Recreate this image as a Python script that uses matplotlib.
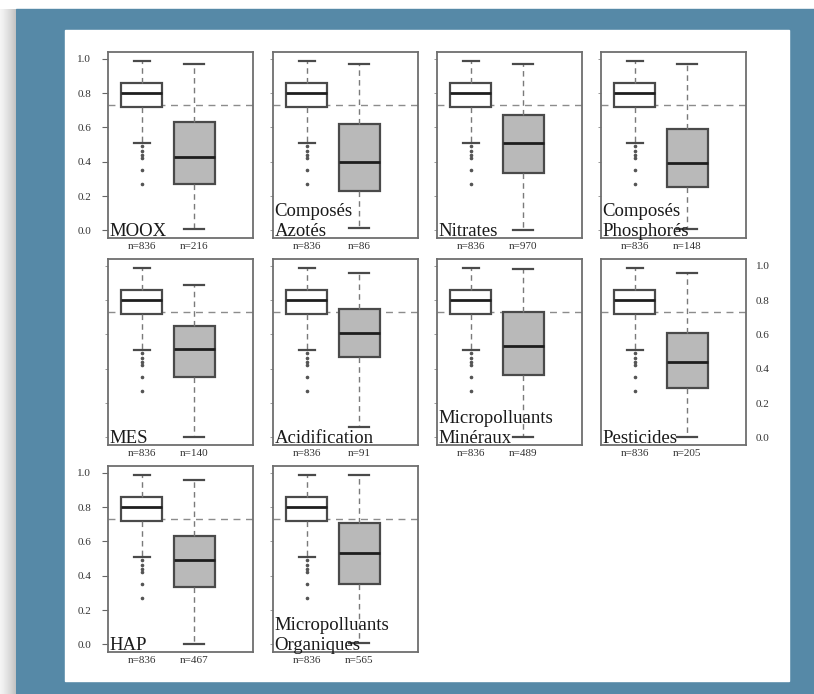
import numpy as np
import matplotlib
matplotlib.use("Agg")
import matplotlib.pyplot as plt
from matplotlib.patches import Rectangle

# panel names
labels = ["MOOX", "Composés\nAzotés", "Nitrates", "Composés\nPhosphorés",
          "MES", "Acidification", "Micropolluants\nMinéraux", "Pesticides",
          "HAP", "Micropolluants\nOrganiques"]

# reference group (same in every panel)
n_ref = 836
ref_whishi = 0.99
ref_q3 = 0.86
ref_med = 0.80
ref_q1 = 0.72
ref_whislo = 0.51
ref_fliers = [0.49, 0.46, 0.44, 0.42, 0.35, 0.27]

# second group per panel
n_grp = [216, 86, 970, 148, 140, 91, 489, 205, 467, 565]
grp_whishi = [0.97, 0.97, 0.97, 0.97, 0.89, 0.96, 0.98, 0.96, 0.96, 0.99]
grp_q3 = [0.63, 0.62, 0.67, 0.59, 0.65, 0.75, 0.73, 0.61, 0.63, 0.71]
grp_med = [0.43, 0.40, 0.51, 0.39, 0.515, 0.61, 0.53, 0.44, 0.49, 0.53]
grp_q1 = [0.27, 0.23, 0.335, 0.25, 0.35, 0.47, 0.365, 0.29, 0.335, 0.35]
grp_whislo = [0.01, 0.015, 0.0, 0.01, 0.0, 0.06, 0.0, 0.0, 0.0, 0.01]

ref_line = 0.73
yticks = [0.0, 0.2, 0.4, 0.6, 0.8, 1.0]

W, H = 814, 694
blue = "#5689a7"
serif = ["Liberation Serif", "DejaVu Serif"]

fig = plt.figure(figsize=(W / 100, H / 100), dpi=100, facecolor="white")

# blue frame + white sheet (behind the axes)
fig.patches.append(Rectangle((16 / W, 0), 1 - 16 / W, (H - 9) / H,
                             transform=fig.transFigure, color=blue, zorder=-3))
fig.patches.append(Rectangle((65 / W, (H - 681) / H), (789 - 65) / W, (681 - 30) / H,
                             transform=fig.transFigure, color="white", zorder=-2))
# left shadow
ax_sh = fig.add_axes([0, 0, 16 / W, (H - 9) / H])
ax_sh.imshow(np.linspace(0.08, 0.35, 32)[None, :], cmap="Greys", vmin=0, vmax=1,
             aspect="auto", interpolation="bilinear")
ax_sh.axis("off")

cols_x = [108, 273, 437, 601]
rows_y = [52, 259, 466]
ax_w, ax_h = 145, 186

for i, name in enumerate(labels):
    r, c = divmod(i, 4)
    ax = fig.add_axes([cols_x[c] / W, 1 - (rows_y[r] + ax_h) / H, ax_w / W, ax_h / H])
    stats = [
        dict(whislo=ref_whislo, q1=ref_q1, med=ref_med, q3=ref_q3,
             whishi=ref_whishi, fliers=ref_fliers),
        dict(whislo=grp_whislo[i], q1=grp_q1[i], med=grp_med[i], q3=grp_q3[i],
             whishi=grp_whishi[i], fliers=[]),
    ]
    ax.axhline(ref_line, color="#8c8c8c", ls=(0, (5, 4)), lw=1.0, zorder=1.5)
    bp = ax.bxp(stats, positions=[1, 2], widths=0.78, capwidths=[0.3, 0.38],
                patch_artist=True, manage_ticks=False,
                boxprops=dict(edgecolor="#4a4a4a", linewidth=1.6),
                whiskerprops=dict(color="#7a7a7a", linestyle=(0, (4, 3)), linewidth=1.0),
                capprops=dict(color="#4a4a4a", linewidth=1.6),
                medianprops=dict(color="#1e1e1e", linewidth=2.0),
                flierprops=dict(marker="o", markersize=1.6, markerfacecolor="#555555",
                                markeredgecolor="#555555", linestyle="none"))
    bp["boxes"][0].set_facecolor("white")
    bp["boxes"][1].set_facecolor("#b9b9b9")

    ax.set_xlim(0.36, 3.12)
    ax.set_ylim(-0.045, 1.04)
    ax.set_xticks([])
    ax.set_yticks(yticks)
    for s in ax.spines.values():
        s.set_color("#6e6e6e")
        s.set_linewidth(1.3)

    if r in (0, 2) and c == 0:
        ax.set_yticklabels(["%.1f" % t for t in yticks], family=serif, fontsize=8)
        ax.tick_params(axis="y", length=4, width=0.8, colors="#666666", pad=8,
                       labelcolor="#333333")
    elif r == 1 and c == 3:
        ax.yaxis.tick_right()
        ax.set_yticklabels(["%.1f" % t for t in yticks], family=serif, fontsize=8)
        ax.tick_params(axis="y", length=0, pad=7, labelcolor="#333333")
    else:
        ax.set_yticklabels([])
        ax.tick_params(axis="y", length=2, width=0.7, colors="#999999")

    # panel name, written line by line from the bottom
    lines = name.split("\n")
    for k, ln in enumerate(reversed(lines)):
        ax.text(0.012, 0.012 + k * 0.108, ln, transform=ax.transAxes, family=serif,
                fontsize=13.5, color="#1a1a1a", ha="left", va="baseline", zorder=5)

    # sample sizes under the boxes
    for pos, n in zip([1, 2], [n_ref, n_grp[i]]):
        ax.text(pos, -0.045, "n=%d" % n, transform=ax.get_xaxis_transform(),
                family=serif, fontsize=8, color="#333333", ha="center", va="center")

fig.savefig("out.png", dpi=100, facecolor="white")
